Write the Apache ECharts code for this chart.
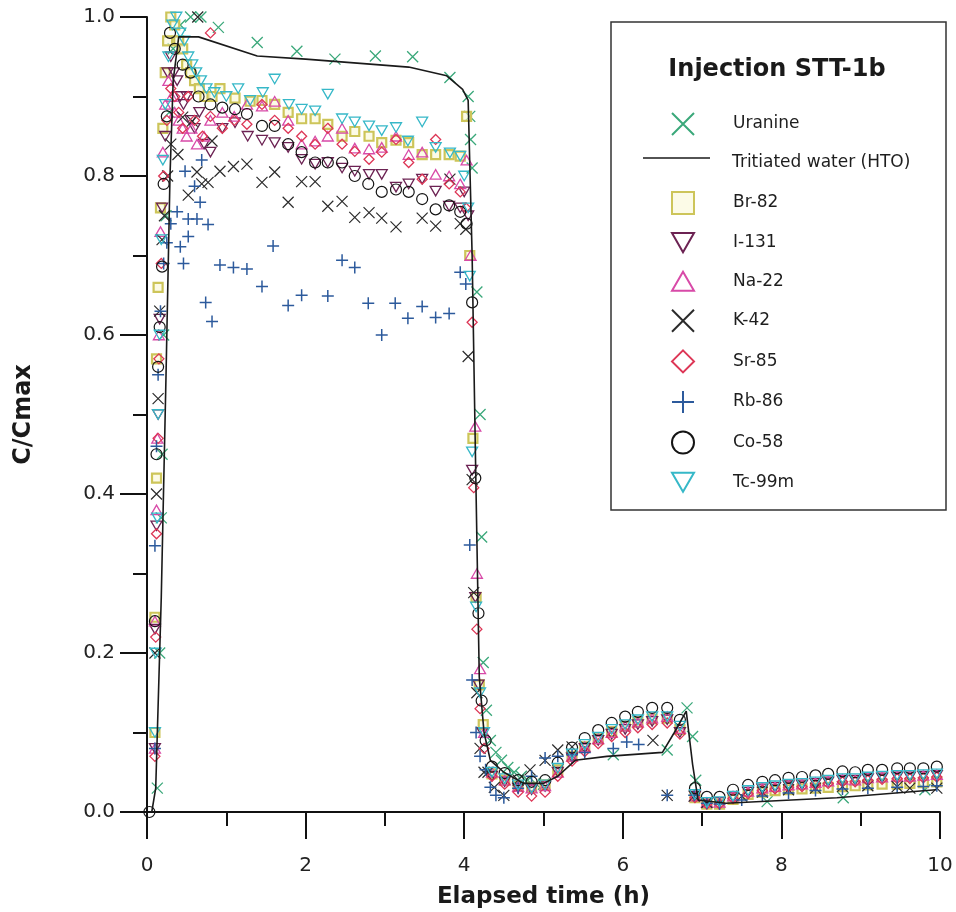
<!DOCTYPE html>
<html>
<head>
<meta charset="utf-8">
<script src="https://cdn.jsdelivr.net/npm/echarts@6/dist/echarts.min.js"></script>
<style>html,body{margin:0;padding:0;background:#fff}#chart{width:956px;height:912px}</style>
</head>
<body>
<div id="chart"></div>
<script>
// ---------- DATA ----------
const xTicks = [0, 2, 4, 6, 8, 10];
const yTicks = [0.0, 0.2, 0.4, 0.6, 0.8, 1.0];
const seriesNames = ['Uranine','Tritiated water (HTO)','Br-82','I-131','Na-22','K-42','Sr-85','Rb-86','Co-58','Tc-99m'];

// shared sampling times of the tail (h)
const tailTimes1 = [4.35,4.51,4.68,4.85,5.02,5.18,5.36,5.52,5.69,5.86,6.03,6.19,6.37,6.56,6.72];
const tailTimes2 = [6.91,7.06,7.22,7.39,7.58,7.76,7.92,8.09,8.26,8.43,8.59,8.77,8.93,9.09,9.27,9.46,9.62,9.79,9.96];

const htoLine = [[0.06,0],[0.11,0.03],[0.18,0.27],[0.24,0.55],[0.29,0.8],[0.33,0.92],[0.4,0.975],[0.65,0.975],[1.39,0.951],[2.0,0.947],[3.3,0.937],[3.78,0.926],[3.98,0.909],[4.05,0.895],[4.1,0.7],[4.15,0.4],[4.19,0.17],[4.25,0.1],[4.33,0.065],[4.5,0.05],[4.75,0.036],[5.0,0.036],[5.18,0.045],[5.4,0.065],[5.8,0.07],[6.5,0.075],[6.65,0.1],[6.8,0.127],[6.88,0.06],[6.95,0.015],[7.3,0.011],[8.7,0.018],[9.95,0.028]];

const uranine = [[0.13,0.03],[0.16,0.2],[0.18,0.37],[0.19,0.45],[0.21,0.6],[0.24,0.75],[0.28,0.88],[0.33,0.96],[0.42,0.99],[0.55,1.0],[0.68,1.0],[0.9,0.987],[1.39,0.968],[1.89,0.957],[2.37,0.947],[2.88,0.951],[3.35,0.95],[3.82,0.924],[4.05,0.9],[4.07,0.875],[4.08,0.846],[4.1,0.81],[4.16,0.654],[4.2,0.5],[4.22,0.346],[4.24,0.188],[4.28,0.128],[4.33,0.09],[4.4,0.075],[4.47,0.065],[4.55,0.056],[4.63,0.05],[4.72,0.045],[4.8,0.04],[4.9,0.036],[5.0,0.035],[5.88,0.072],[6.56,0.078],[6.81,0.131],[6.88,0.095],[6.92,0.04],[7.82,0.013],[8.78,0.018],[9.81,0.028]];

const br82Early = [[0.1,0.1],[0.1,0.245],[0.12,0.42],[0.12,0.57],[0.14,0.66],[0.17,0.76],[0.2,0.86],[0.23,0.93],[0.26,0.97],[0.3,1.0],[0.35,0.99],[0.4,0.97],[0.45,0.96],[0.5,0.94],[0.55,0.93],[0.6,0.92],[0.66,0.91],[0.73,0.9],[0.82,0.9],[0.92,0.91],[1.11,0.898],[1.3,0.894],[1.45,0.895],[1.61,0.89],[1.78,0.88],[1.95,0.872],[2.12,0.872],[2.28,0.865],[2.46,0.85],[2.62,0.856],[2.8,0.85],[2.96,0.842],[3.14,0.845],[3.3,0.842],[3.47,0.827],[3.64,0.827],[3.81,0.827],[3.95,0.825],[4.03,0.875],[4.07,0.7],[4.11,0.47],[4.15,0.27],[4.19,0.16],[4.24,0.11]];
const br82Tail1 = [0.048,0.04,0.033,0.031,0.034,0.053,0.07,0.082,0.092,0.101,0.108,0.113,0.117,0.118,0.104];
const br82Tail2 = [0.018,0.01,0.01,0.016,0.022,0.025,0.027,0.028,0.029,0.03,0.031,0.032,0.033,0.034,0.035,0.035,0.036,0.037,0.038];

const i131Early = [[0.1,0.08],[0.1,0.23],[0.12,0.36],[0.14,0.5],[0.16,0.62],[0.19,0.76],[0.23,0.85],[0.26,0.93],[0.3,0.95],[0.34,0.93],[0.38,0.92],[0.42,0.9],[0.46,0.89],[0.5,0.9],[0.55,0.87],[0.6,0.86],[0.66,0.88],[0.72,0.84],[0.8,0.83],[0.95,0.86],[1.11,0.867],[1.27,0.85],[1.45,0.845],[1.61,0.842],[1.78,0.836],[1.95,0.821],[2.12,0.815],[2.28,0.817],[2.46,0.81],[2.62,0.806],[2.8,0.802],[2.96,0.802],[3.14,0.786],[3.3,0.79],[3.47,0.796],[3.64,0.781],[3.81,0.762],[3.95,0.76],[4.0,0.78],[4.05,0.75],[4.1,0.43],[4.14,0.27],[4.18,0.16],[4.23,0.1]];
const i131Tail1 = [0.045,0.038,0.03,0.028,0.032,0.05,0.068,0.08,0.09,0.098,0.104,0.11,0.114,0.116,0.1];
const i131Tail2 = [0.02,0.012,0.012,0.018,0.025,0.029,0.031,0.033,0.034,0.036,0.038,0.04,0.04,0.042,0.043,0.044,0.044,0.045,0.046];

const na22Early = [[0.1,0.08],[0.1,0.24],[0.12,0.38],[0.13,0.47],[0.15,0.6],[0.17,0.73],[0.2,0.83],[0.23,0.89],[0.27,0.92],[0.31,0.9],[0.35,0.88],[0.4,0.87],[0.45,0.86],[0.5,0.85],[0.56,0.86],[0.63,0.84],[0.72,0.85],[0.8,0.87],[0.95,0.88],[1.1,0.875],[1.26,0.89],[1.45,0.888],[1.61,0.894],[1.78,0.87],[1.95,0.84],[2.12,0.844],[2.28,0.85],[2.46,0.86],[2.62,0.835],[2.8,0.834],[2.96,0.836],[3.14,0.85],[3.3,0.827],[3.47,0.83],[3.64,0.802],[3.81,0.8],[3.95,0.79],[4.03,0.82],[4.08,0.7],[4.14,0.485],[4.16,0.3],[4.2,0.18],[4.25,0.1]];
const na22Tail1 = [0.05,0.04,0.032,0.03,0.033,0.05,0.07,0.082,0.092,0.1,0.108,0.113,0.118,0.12,0.105];
const na22Tail2 = [0.02,0.012,0.012,0.02,0.026,0.03,0.032,0.034,0.035,0.037,0.039,0.041,0.04,0.043,0.044,0.045,0.045,0.046,0.047];

const k42Points = [[0.1,0.2],[0.12,0.4],[0.14,0.52],[0.16,0.63],[0.19,0.72],[0.22,0.75],[0.26,0.8],[0.3,0.84],[0.39,0.827],[0.45,0.874],[0.52,0.776],[0.57,0.869],[0.63,0.805],[0.64,1.0],[0.69,0.79],[0.77,0.792],[0.82,0.844],[0.92,0.806],[1.09,0.812],[1.26,0.815],[1.45,0.792],[1.61,0.805],[1.78,0.767],[1.95,0.793],[2.12,0.793],[2.28,0.762],[2.46,0.768],[2.62,0.748],[2.8,0.754],[2.96,0.747],[3.14,0.736],[3.47,0.747],[3.64,0.737],[3.82,0.796],[3.95,0.74],[4.02,0.733],[4.05,0.573],[4.1,0.418],[4.12,0.276],[4.16,0.15],[4.2,0.08],[4.25,0.05],[4.3,0.05],[4.38,0.031],[4.5,0.021],[4.68,0.04],[4.83,0.053],[5.02,0.065],[5.18,0.078],[5.36,0.082],[6.38,0.09],[6.56,0.021],[6.9,0.02],[7.06,0.012],[7.5,0.02],[7.76,0.025],[8.09,0.028],[8.43,0.03],[8.77,0.032],[9.09,0.033],[9.46,0.032],[9.62,0.03],[9.96,0.03]];

const sr85Early = [[0.1,0.07],[0.11,0.22],[0.12,0.35],[0.14,0.47],[0.15,0.57],[0.18,0.69],[0.21,0.8],[0.25,0.87],[0.3,0.91],[0.35,0.9],[0.4,0.88],[0.45,0.86],[0.52,0.9],[0.6,0.87],[0.7,0.85],[0.8,0.98],[0.8,0.875],[0.95,0.86],[1.1,0.87],[1.26,0.865],[1.45,0.89],[1.61,0.87],[1.78,0.86],[1.95,0.85],[2.12,0.84],[2.28,0.86],[2.46,0.84],[2.62,0.831],[2.8,0.821],[2.96,0.83],[3.14,0.846],[3.3,0.817],[3.47,0.796],[3.64,0.846],[3.81,0.79],[3.95,0.78],[4.02,0.76],[4.1,0.616],[4.12,0.408],[4.16,0.23],[4.2,0.13],[4.25,0.08]];
const sr85Tail1 = [0.045,0.035,0.025,0.02,0.025,0.045,0.064,0.076,0.086,0.095,0.1,0.106,0.11,0.112,0.098];
const sr85Tail2 = [0.018,0.01,0.01,0.017,0.023,0.027,0.029,0.031,0.032,0.034,0.036,0.038,0.038,0.04,0.041,0.042,0.042,0.043,0.044];

const rb86Points = [[0.1,0.08],[0.1,0.335],[0.12,0.46],[0.14,0.55],[0.17,0.63],[0.21,0.69],[0.25,0.716],[0.3,0.74],[0.38,0.755],[0.42,0.711],[0.46,0.69],[0.48,0.806],[0.52,0.746],[0.52,0.724],[0.6,0.787],[0.63,0.746],[0.67,0.767],[0.69,0.82],[0.74,0.641],[0.77,0.739],[0.82,0.617],[0.92,0.688],[1.09,0.685],[1.26,0.683],[1.45,0.661],[1.59,0.712],[1.78,0.637],[1.95,0.65],[2.28,0.649],[2.46,0.694],[2.62,0.685],[2.79,0.64],[2.96,0.6],[3.13,0.64],[3.29,0.621],[3.47,0.636],[3.64,0.622],[3.81,0.627],[3.95,0.679],[4.02,0.664],[4.07,0.336],[4.1,0.166],[4.15,0.1],[4.2,0.07],[4.27,0.053],[4.33,0.031],[4.4,0.021],[4.5,0.018],[4.68,0.03],[4.85,0.045],[5.02,0.068],[5.18,0.07],[5.36,0.072],[5.52,0.075],[5.88,0.08],[6.05,0.088],[6.2,0.085],[6.56,0.021],[6.9,0.021],[7.06,0.011],[7.22,0.01],[7.5,0.015],[7.76,0.02],[8.09,0.024],[8.43,0.027],[8.77,0.029],[9.09,0.03],[9.46,0.031],[9.79,0.032],[9.96,0.033]];

const co58Early = [[0.03,0],[0.1,0.24],[0.12,0.45],[0.14,0.56],[0.16,0.61],[0.19,0.686],[0.21,0.79],[0.25,0.875],[0.29,0.98],[0.35,0.96],[0.45,0.94],[0.55,0.93],[0.65,0.9],[0.8,0.89],[0.95,0.886],[1.11,0.884],[1.26,0.878],[1.45,0.863],[1.61,0.863],[1.78,0.84],[1.95,0.83],[2.12,0.817],[2.28,0.817],[2.46,0.817],[2.62,0.8],[2.79,0.79],[2.96,0.78],[3.14,0.783],[3.3,0.78],[3.47,0.771],[3.64,0.758],[3.81,0.763],[3.95,0.755],[4.03,0.74],[4.1,0.641],[4.14,0.42],[4.18,0.25],[4.22,0.14],[4.27,0.09]];
const co58Tail1 = [0.057,0.049,0.04,0.038,0.04,0.062,0.081,0.093,0.103,0.112,0.12,0.126,0.131,0.131,0.116];
const co58Tail2 = [0.03,0.019,0.019,0.028,0.034,0.038,0.04,0.043,0.044,0.046,0.048,0.051,0.05,0.053,0.053,0.055,0.055,0.055,0.057];

const tc99Early = [[0.1,0.1],[0.11,0.2],[0.13,0.37],[0.14,0.5],[0.16,0.6],[0.18,0.72],[0.2,0.82],[0.23,0.89],[0.27,0.95],[0.32,0.99],[0.37,1.0],[0.42,0.98],[0.47,0.97],[0.52,0.95],[0.57,0.94],[0.62,0.93],[0.68,0.92],[0.75,0.91],[0.85,0.905],[1.0,0.9],[1.15,0.91],[1.3,0.895],[1.46,0.905],[1.61,0.922],[1.79,0.89],[1.95,0.884],[2.12,0.882],[2.28,0.903],[2.46,0.872],[2.62,0.868],[2.8,0.863],[2.96,0.857],[3.14,0.861],[3.29,0.844],[3.47,0.868],[3.64,0.836],[3.82,0.829],[3.95,0.825],[4.0,0.8],[4.05,0.76],[4.07,0.674],[4.1,0.453],[4.15,0.258],[4.2,0.15],[4.25,0.1]];
const tc99Tail1 = [0.05,0.042,0.034,0.03,0.034,0.055,0.073,0.085,0.094,0.104,0.11,0.116,0.12,0.12,0.108];
const tc99Tail2 = [0.022,0.012,0.013,0.02,0.027,0.031,0.033,0.035,0.036,0.038,0.04,0.042,0.042,0.044,0.045,0.046,0.046,0.047,0.048];

// ---------- BUILD ----------
function withTail(early, t1, t2) {
  return early.concat(tailTimes1.map((t, i) => [t, t1[i]]), tailTimes2.map((t, i) => [t, t2[i]]));
}
const SYM = {
  cross: 'path://M0,0L10,10M10,0L0,10',
  plus: 'path://M5,0L5,10M0,5L10,5',
  down: 'path://M0,0L10,0L5,8.66Z',
  up: 'path://M5,0L10,8.66L0,8.66Z',
  diamond: 'path://M5,0L10,5L5,10L0,5Z'
};
function scat(name, data, symbol, color, size, bw, fill) {
  return {
    name, type: 'scatter', data, symbol, symbolSize: size, symbolKeepAspect: true, clip: false,
    itemStyle: { color: fill || 'rgba(0,0,0,0)', borderColor: color, borderWidth: bw, opacity: 1 },
    emphasis: { disabled: true }
  };
}
const FONT = 'DejaVu Sans';
const series = [
  scat('Uranine', uranine, SYM.cross, '#3aa87a', 11, 1.3),
  { name: 'Tritiated water (HTO)', type: 'line', data: htoLine, symbol: 'none', showSymbol: false,
    lineStyle: { color: '#1a1a1a', width: 1.6 }, itemStyle: { color: '#1a1a1a' }, z: 3, clip: false },
  scat('Br-82', withTail(br82Early, br82Tail1, br82Tail2), 'rect', '#cdc55a', 9, 2.2, 'rgba(250,248,215,0.6)'),
  scat('I-131', withTail(i131Early, i131Tail1, i131Tail2), SYM.down, '#6c2253', 11, 1.3),
  scat('Na-22', withTail(na22Early, na22Tail1, na22Tail2), SYM.up, '#d84aa8', 11, 1.3),
  scat('K-42', k42Points, SYM.cross, '#2b2b2b', 11, 1.2),
  scat('Sr-85', withTail(sr85Early, sr85Tail1, sr85Tail2), SYM.diamond, '#dd3656', 10, 1.3),
  scat('Rb-86', rb86Points, SYM.plus, '#2c5a9c', 12, 1.5),
  scat('Co-58', withTail(co58Early, co58Tail1, co58Tail2), 'circle', '#141414', 11, 1.2),
  scat('Tc-99m', withTail(tc99Early, tc99Tail1, tc99Tail2), SYM.down, '#36b8c8', 11, 1.3)
];

const legendText = { fontFamily: FONT, fontSize: 17, color: '#1e1e1e', lineHeight: 22 };
const chart = echarts.init(document.getElementById('chart'), null, { renderer: 'canvas' });
chart.setOption({
  backgroundColor: '#fff',
  animation: false,
  grid: { left: 147, right: 16, top: 17, bottom: 100, containLabel: false, outerBoundsMode: 'none' },
  xAxis: {
    type: 'value', min: xTicks[0], max: xTicks[xTicks.length - 1], interval: 2,
    name: 'Elapsed time (h)', nameLocation: 'middle', nameGap: 74,
    nameTextStyle: { fontFamily: FONT, fontWeight: 'bold', fontSize: 23, color: '#1a1a1a' },
    axisLine: { onZero: false, lineStyle: { color: '#111', width: 2 } },
    axisTick: { inside: false, length: 27, lineStyle: { color: '#111', width: 2 } },
    minorTick: { show: true, splitNumber: 2, length: 14, lineStyle: { color: '#111', width: 2 } },
    splitLine: { show: false },
    axisLabel: { margin: 44, fontFamily: FONT, fontSize: 20, color: '#222',
      formatter: v => xTicks.includes(v) ? String(v) : '' }
  },
  yAxis: {
    type: 'value', min: yTicks[0], max: yTicks[yTicks.length - 1], interval: 0.2,
    name: 'C/Cmax', nameLocation: 'middle', nameGap: 111, nameRotate: 90,
    nameTextStyle: { fontFamily: FONT, fontWeight: 'bold', fontSize: 24, color: '#1a1a1a' },
    axisLine: { onZero: false, lineStyle: { color: '#111', width: 2 } },
    axisTick: { inside: false, length: 27, lineStyle: { color: '#111', width: 2 } },
    minorTick: { show: true, splitNumber: 2, length: 14, lineStyle: { color: '#111', width: 2 } },
    splitLine: { show: false },
    axisLabel: { margin: 32, fontFamily: FONT, fontSize: 20, color: '#222', formatter: v => v.toFixed(1) }
  },
  legend: [
    { data: [seriesNames[0]], orient: 'vertical', left: 666, top: 107, itemWidth: 22, itemHeight: 22,
      selectedMode: false, textStyle: Object.assign({ padding: [0, 0, 0, 34] }, legendText) },
    { data: [{ name: seriesNames[1], icon: 'none' }], orient: 'vertical', left: 643, top: 147, itemWidth: 67, itemHeight: 22,
      selectedMode: false, textStyle: Object.assign({ padding: [0, 0, 0, 12] }, legendText) },
    { data: seriesNames.slice(2), orient: 'vertical', left: 666, top: 186, itemWidth: 22, itemHeight: 22,
      itemGap: 16.6, selectedMode: false, textStyle: Object.assign({ padding: [0, 0, 0, 34] }, legendText) }
  ],
  graphic: [
    { type: 'rect', shape: { x: 611, y: 22, width: 335, height: 488 },
      style: { fill: 'rgba(0,0,0,0)', stroke: '#333', lineWidth: 1.5 }, silent: true, z: 0 },
    { type: 'line', shape: { x1: 643, y1: 158, x2: 710, y2: 158 },
      style: { stroke: '#1a1a1a', lineWidth: 1.6 }, silent: true },
    { type: 'text', x: 777, y: 70, silent: true,
      style: { text: 'Injection STT-1b', align: 'center', verticalAlign: 'middle',
        textAlign: 'center', textVerticalAlign: 'middle',
        font: 'bold 24px "DejaVu Sans"', fill: '#1a1a1a' } }
  ],
  series
});
</script>
</body>
</html>
